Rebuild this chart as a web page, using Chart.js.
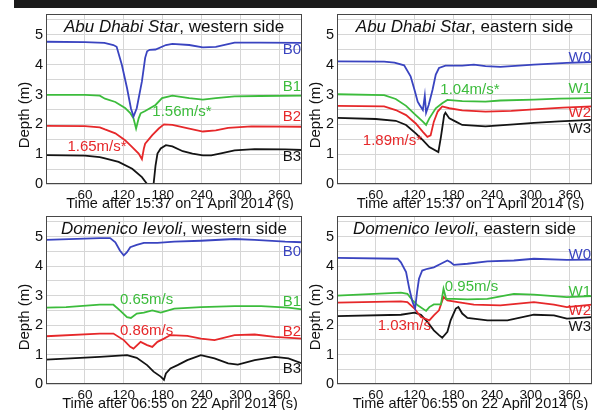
<!DOCTYPE html>
<html>
<head>
<meta charset="utf-8">
<script src="https://cdn.jsdelivr.net/npm/chart.js@4.4.0/dist/chart.umd.min.js"></script>
<style>
  body { margin: 0; background: #fff; }
  #wrap { position: relative; width: 600px; height: 414px; overflow: hidden; }
  .band { position: absolute; left: 14px; top: 0; width: 583px; height: 8px; background: #1b1b1b; }
  canvas { position: absolute; }
</style>
</head>
<body>
<div id="wrap">
  <div class="band"></div>
  <canvas id="c1" width="310" height="210" style="left:0;top:0"></canvas>
  <canvas id="c2" width="310" height="210" style="left:290px;top:0"></canvas>
  <canvas id="c3" width="310" height="208" style="left:0;top:202px"></canvas>
  <canvas id="c4" width="310" height="208" style="left:290px;top:202px"></canvas>
</div>
<script>
// axis ticks
const xTickLabels = [60, 120, 180, 240, 300, 360];
const yTickLabels = [0, 1, 2, 3, 4, 5];
const X_MAX = 395;
const Y_MAX = 5.7;

// Abu Dhabi Star, western side
const adwB0Time  = [0, 60, 90, 104, 109, 117, 125, 131, 135, 140, 148, 153, 156, 160, 169, 185, 195, 221, 242, 262, 291, 330, 395];
const adwB0Depth = [4.77, 4.76, 4.73, 4.66, 4.6, 4.0, 3.22, 2.54, 2.26, 2.54, 3.44, 4.23, 4.45, 4.5, 4.51, 4.66, 4.7, 4.66, 4.58, 4.6, 4.74, 4.74, 4.73];
const adwB1Time  = [0, 60, 83, 91, 107, 122, 130, 135, 139, 143, 146, 153, 169, 179, 195, 221, 242, 262, 291, 330, 395];
const adwB1Depth = [2.99, 2.99, 2.96, 2.86, 2.75, 2.55, 2.38, 2.2, 1.86, 2.2, 2.37, 2.45, 2.65, 2.88, 2.96, 2.88, 2.83, 2.88, 2.94, 2.95, 2.96];
const adwB2Time  = [0, 60, 83, 91, 107, 122, 133, 143, 148, 151, 153, 164, 174, 182, 195, 221, 242, 262, 281, 317, 395];
const adwB2Depth = [1.95, 1.94, 1.9, 1.83, 1.7, 1.47, 1.24, 1.02, 0.83, 1.19, 1.35, 1.64, 1.86, 2.0, 1.98, 1.86, 1.76, 1.8, 1.88, 1.93, 1.92];
const adwB3Time  = [0, 60, 83, 91, 112, 133, 148, 156, 166, 169, 172, 177, 185, 195, 211, 226, 242, 255, 270, 291, 322, 369, 395];
const adwB3Depth = [0.97, 0.95, 0.9, 0.86, 0.74, 0.51, 0.23, 0.0, 0.0, 0.62, 1.02, 1.19, 1.3, 1.26, 1.1, 1.02, 0.96, 0.96, 1.03, 1.13, 1.17, 1.16, 1.14];

// Abu Dhabi Star, eastern side
const aeW0Time  = [0, 73, 89, 104, 114, 120, 125, 128, 133, 136, 138, 142, 148, 153, 158, 168, 194, 212, 230, 253, 305, 356, 395];
const aeW0Depth = [4.11, 4.1, 4.07, 3.98, 3.61, 3.16, 2.76, 2.65, 2.48, 2.96, 2.39, 2.65, 3.16, 3.67, 3.89, 3.97, 3.97, 4.0, 3.95, 3.93, 4.0, 4.06, 4.09];
const aeW1Time  = [0, 73, 91, 107, 122, 133, 138, 143, 153, 163, 171, 194, 230, 253, 305, 344, 395];
const aeW1Depth = [3.01, 2.98, 2.85, 2.62, 2.31, 2.09, 1.98, 2.2, 2.54, 2.71, 2.82, 2.78, 2.76, 2.8, 2.83, 2.86, 2.88];
const aeW2Time  = [0, 73, 91, 107, 122, 133, 140, 145, 150, 156, 163, 174, 194, 230, 270, 305, 350, 395];
const aeW2Depth = [2.62, 2.6, 2.48, 2.31, 2.03, 1.75, 1.58, 1.63, 2.09, 2.43, 2.6, 2.54, 2.47, 2.43, 2.45, 2.5, 2.56, 2.6];
const aeW3Time  = [0, 60, 91, 107, 122, 133, 143, 157, 161, 166, 168, 174, 184, 194, 230, 274, 305, 344, 395];
const aeW3Depth = [2.22, 2.18, 2.12, 1.98, 1.7, 1.47, 1.24, 1.07, 1.58, 2.31, 2.39, 2.2, 2.09, 1.98, 1.93, 2.0, 2.05, 2.1, 2.15];

// Domenico Ievoli, western side
const dwB0Time  = [0, 83, 99, 107, 114, 120, 125, 130, 140, 151, 172, 198, 239, 291, 322, 369, 395];
const dwB0Depth = [4.89, 4.95, 4.95, 4.81, 4.53, 4.36, 4.47, 4.64, 4.72, 4.79, 4.79, 4.83, 4.86, 4.92, 4.89, 4.83, 4.81];
const dwB1Time  = [0, 31, 83, 104, 114, 125, 131, 140, 151, 164, 177, 198, 239, 291, 332, 374, 395];
const dwB1Depth = [2.59, 2.61, 2.69, 2.69, 2.5, 2.27, 2.24, 2.39, 2.42, 2.5, 2.42, 2.56, 2.61, 2.64, 2.64, 2.59, 2.53];
const dwB2Time  = [0, 83, 104, 120, 130, 135, 146, 156, 164, 172, 182, 192, 218, 239, 260, 291, 322, 353, 395];
const dwB2Depth = [1.62, 1.71, 1.71, 1.49, 1.26, 1.2, 1.43, 1.32, 1.26, 1.43, 1.54, 1.66, 1.63, 1.54, 1.49, 1.66, 1.68, 1.6, 1.54];
const dwB3Time  = [0, 83, 125, 140, 156, 166, 177, 182, 185, 192, 203, 218, 239, 260, 281, 296, 322, 353, 374, 395];
const dwB3Depth = [0.83, 0.92, 0.98, 0.89, 0.64, 0.42, 0.25, 0.14, 0.36, 0.53, 0.64, 0.81, 0.98, 0.87, 0.7, 0.66, 0.81, 0.92, 0.87, 0.7];

// Domenico Ievoli, eastern side
const deW0Time  = [0, 94, 99, 107, 112, 117, 121, 124, 127, 132, 140, 150, 161, 171, 176, 181, 202, 233, 274, 305, 356, 395];
const deW0Depth = [4.28, 4.25, 4.13, 3.8, 3.23, 2.78, 2.56, 3.12, 3.57, 3.85, 3.91, 3.96, 4.08, 4.19, 4.13, 4.04, 4.08, 4.16, 4.19, 4.25, 4.21, 4.22];
const deW1Time  = [0, 99, 109, 117, 125, 138, 143, 150, 161, 165, 169, 181, 202, 233, 274, 305, 336, 356, 395];
const deW1Depth = [3.0, 3.1, 3.06, 2.84, 2.67, 2.48, 2.61, 2.7, 2.7, 3.23, 2.89, 2.89, 2.87, 2.89, 3.06, 3.03, 2.98, 2.95, 2.98];
const deW2Time  = [0, 99, 109, 120, 130, 143, 150, 158, 165, 171, 187, 212, 253, 305, 336, 356, 395];
const deW2Depth = [2.76, 2.8, 2.78, 2.56, 2.27, 2.16, 2.33, 2.5, 2.95, 2.84, 2.78, 2.69, 2.67, 2.78, 2.69, 2.61, 2.69];
const deW3Time  = [0, 99, 120, 130, 140, 150, 158, 163, 171, 176, 184, 188, 194, 202, 233, 264, 305, 336, 356, 395];
const deW3Depth = [2.3, 2.35, 2.42, 2.35, 2.11, 1.82, 1.66, 1.57, 1.77, 2.16, 2.56, 2.61, 2.39, 2.24, 2.16, 2.16, 2.35, 2.33, 2.22, 2.27];

// gauge name labels, [name, depth] at right edge
const adwGaugeLabels = [['B0', 4.5], ['B1', 3.25], ['B2', 2.25], ['B3', 0.9]];
const aeGaugeLabels  = [['W0', 4.24], ['W1', 3.18], ['W2', 2.37], ['W3', 1.86]];
const dwGaugeLabels  = [['B0', 4.5], ['B1', 2.78], ['B2', 1.77], ['B3', 0.53]];
const deGaugeLabels  = [['W0', 4.38], ['W1', 3.14], ['W2', 2.47], ['W3', 1.94]];

// speed notes: [text, time, depth, colour index]
const adwSpeeds = [['1.56m/s*', 164, 2.43, 1], ['1.65m/s*', 33, 1.24, 2]];
const aeSpeeds  = [['1.04m/s*', 160, 3.16, 1], ['1.89m/s*', 40, 1.43, 2]];
const dwSpeeds  = [['0.65m/s', 114, 2.86, 1], ['0.86m/s', 114, 1.8, 2]];
const deSpeeds  = [['0.95m/s', 167, 3.29, 1], ['1.03m/s', 63, 1.97, 2]];

const colours = ['#3a44c0', '#3cbc3c', '#e6282a', '#141414'];
const FONT = "'Liberation Sans', Arial, sans-serif";
const GRID = '#d6d6d6';

function series(times, depths) {
    return times.map((t, i) => ({ x: t, y: depths[i] }));
}

const panelDecor = {
    id: 'panelDecor',
    afterDraw(chart, args, opts) {
        const { ctx, chartArea: a, scales } = chart;
        ctx.save();
        // frame
        ctx.strokeStyle = '#474747';
        ctx.lineWidth = 1;
        ctx.strokeRect(a.left + 0.5, a.top + 0.5, a.right - a.left - 1, a.bottom - a.top - 1);

        // panel title: ship name in italics
        ctx.fillStyle = '#111';
        ctx.textBaseline = 'middle';
        ctx.font = 'italic 17px ' + FONT;
        const w1 = ctx.measureText(opts.name).width;
        ctx.font = '17px ' + FONT;
        const w2 = ctx.measureText(opts.side).width;
        let x = (a.left + a.right) / 2 - (w1 + w2) / 2;
        ctx.textAlign = 'left';
        ctx.font = 'italic 17px ' + FONT;
        ctx.fillText(opts.name, x, a.top + 13);
        ctx.font = '17px ' + FONT;
        ctx.fillText(opts.side, x + w1, a.top + 13);

        // gauge labels
        ctx.font = '15px ' + FONT;
        ctx.textAlign = 'right';
        opts.gauges.forEach((g, i) => {
            ctx.fillStyle = colours[i];
            ctx.fillText(g[0], a.right - 1, scales.y.getPixelForValue(g[1]));
        });

        // speeds
        ctx.textAlign = 'left';
        opts.speeds.forEach(s => {
            ctx.fillStyle = colours[s[3]];
            ctx.fillText(s[0], scales.x.getPixelForValue(s[1]), scales.y.getPixelForValue(s[2]));
        });

        // axis titles
        ctx.fillStyle = '#111';
        ctx.textAlign = 'center';
        ctx.font = '14.5px ' + FONT;
        ctx.fillText(opts.xTitle, (a.left + a.right) / 2 + 6, a.bottom + 19.5);
        ctx.translate(a.left - 21, a.top + 101);
        ctx.rotate(-Math.PI / 2);
        ctx.font = '15px ' + FONT;
        ctx.fillText('Depth (m)', 0, 0);
        ctx.restore();
    }
};

function makePanel(id, padLeft, name, side, xTitle, data, gauges, speeds) {
    new Chart(document.getElementById(id), {
        type: 'line',
        data: {
            datasets: data.map((d, i) => ({
                data: d,
                borderColor: colours[i],
                borderWidth: 1.8,
                pointRadius: 0,
                tension: 0,
                fill: false
            }))
        },
        options: {
            responsive: false,
            animation: false,
            layout: { padding: { left: padLeft, top: 14, right: 8, bottom: 0 } },
            plugins: {
                legend: { display: false },
                tooltip: { enabled: false },
                panelDecor: { name: name, side: side, xTitle: xTitle, gauges: gauges, speeds: speeds }
            },
            scales: {
                x: {
                    type: 'linear',
                    min: 0,
                    max: X_MAX,
                    afterFit: s => { s.height = 26; },
                    border: { display: false },
                    grid: { color: GRID, drawTicks: false },
                    ticks: {
                        stepSize: 60,
                        includeBounds: false,
                        autoSkip: false,
                        maxRotation: 0,
                        padding: 3,
                        color: '#111',
                        font: { family: FONT, size: 13.5 },
                        callback: v => xTickLabels.includes(v) ? String(v) : ''
                    }
                },
                y: {
                    min: 0,
                    max: Y_MAX,
                    afterFit: s => { s.width = 46; },
                    border: { display: false },
                    grid: { color: GRID, drawTicks: false },
                    ticks: {
                        stepSize: 0.5,
                        includeBounds: false,
                        autoSkip: false,
                        padding: 3,
                        color: '#111',
                        font: { family: FONT, size: 14.5 },
                        callback: v => {
                            const r = Math.round(v);
                            return (Math.abs(v - r) < 1e-6 && yTickLabels.includes(r)) ? String(r) : '';
                        }
                    }
                }
            }
        },
        plugins: [panelDecor]
    });
}

const titleAbu = 'Time after 15:37 on 1 April 2014 (s)';
const titleDom = 'Time after 06:55 on 22 April 2014 (s)';

makePanel('c1', 0, 'Abu Dhabi Star', ', western side', titleAbu,
    [series(adwB0Time, adwB0Depth), series(adwB1Time, adwB1Depth), series(adwB2Time, adwB2Depth), series(adwB3Time, adwB3Depth)],
    adwGaugeLabels, adwSpeeds);
makePanel('c2', 1, 'Abu Dhabi Star', ', eastern side', titleAbu,
    [series(aeW0Time, aeW0Depth), series(aeW1Time, aeW1Depth), series(aeW2Time, aeW2Depth), series(aeW3Time, aeW3Depth)],
    aeGaugeLabels, aeSpeeds);
makePanel('c3', 0, 'Domenico Ievoli', ', western side', titleDom,
    [series(dwB0Time, dwB0Depth), series(dwB1Time, dwB1Depth), series(dwB2Time, dwB2Depth), series(dwB3Time, dwB3Depth)],
    dwGaugeLabels, dwSpeeds);
makePanel('c4', 1, 'Domenico Ievoli', ', eastern side', titleDom,
    [series(deW0Time, deW0Depth), series(deW1Time, deW1Depth), series(deW2Time, deW2Depth), series(deW3Time, deW3Depth)],
    deGaugeLabels, deSpeeds);
</script>
</body>
</html>
